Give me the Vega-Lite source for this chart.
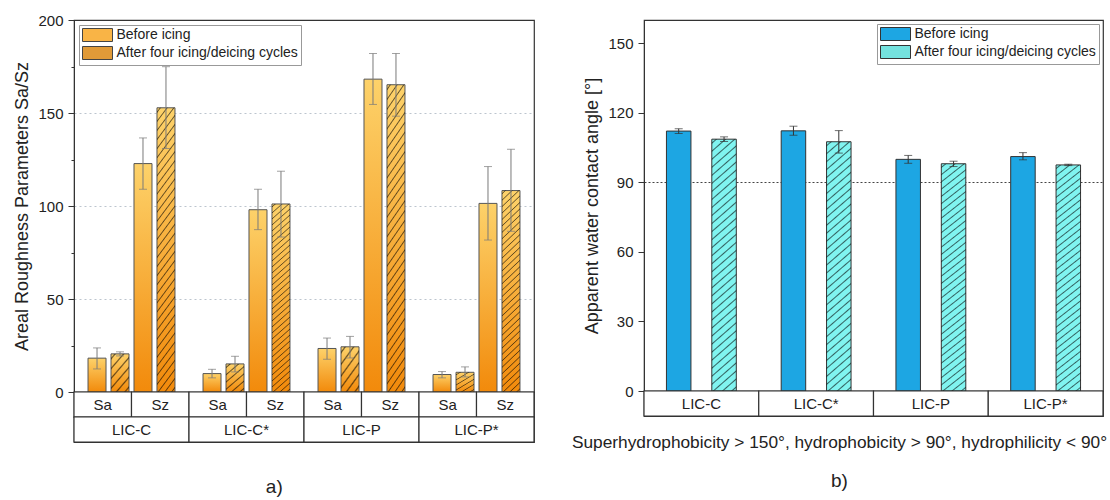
{
"$schema": "https://vega.github.io/schema/vega-lite/v6.json",
"background": "white",
"padding": {"left": 13, "top": 12, "right": 2, "bottom": 2},
"config": {
  "font": "Liberation Sans",
  "view": {"stroke": "#333", "strokeWidth": 1.2},
  "axis": {"labelFontSize": 15, "titleFontSize": 18, "titleFontWeight": "normal", "labelColor": "#222", "titleColor": "#222", "domainColor": "#333", "tickColor": "#333", "labelFlush": false, "labelOverlap": false, "labelPadding": 5, "titlePadding": 6},
  "legend": {"labelLimit": 400},
  "title": {"fontWeight": "normal", "color": "#222"}
},
"datasets": {
  "rough": [
    {"sample": "LIC-C", "param": "Sa", "stage": "Before", "slot": "Sa/Before", "value": 18.2, "lo": 12.4, "hi": 23.7},
    {"sample": "LIC-C", "param": "Sa", "stage": "After", "slot": "Sa/After", "value": 20.5, "lo": 19.4, "hi": 21.6},
    {"sample": "LIC-C", "param": "Sz", "stage": "Before", "slot": "Sz/Before", "value": 122.8, "lo": 109, "hi": 136.6},
    {"sample": "LIC-C", "param": "Sz", "stage": "After", "slot": "Sz/After", "value": 152.8, "lo": 130.9, "hi": 174.9},
    {"sample": "LIC-C*", "param": "Sa", "stage": "Before", "slot": "Sa/Before", "value": 9.9, "lo": 7.6, "hi": 12.2},
    {"sample": "LIC-C*", "param": "Sa", "stage": "After", "slot": "Sa/After", "value": 15.1, "lo": 10.8, "hi": 19.2},
    {"sample": "LIC-C*", "param": "Sz", "stage": "Before", "slot": "Sz/Before", "value": 98, "lo": 87.3, "hi": 109},
    {"sample": "LIC-C*", "param": "Sz", "stage": "After", "slot": "Sz/After", "value": 101.1, "lo": 83.3, "hi": 118.7},
    {"sample": "LIC-P", "param": "Sa", "stage": "Before", "slot": "Sa/Before", "value": 23.4, "lo": 17.6, "hi": 29},
    {"sample": "LIC-P", "param": "Sa", "stage": "After", "slot": "Sa/After", "value": 24.3, "lo": 18.3, "hi": 29.9},
    {"sample": "LIC-P", "param": "Sz", "stage": "Before", "slot": "Sz/Before", "value": 168.2, "lo": 154.6, "hi": 182},
    {"sample": "LIC-P", "param": "Sz", "stage": "After", "slot": "Sz/After", "value": 165.2, "lo": 148.3, "hi": 182},
    {"sample": "LIC-P*", "param": "Sa", "stage": "Before", "slot": "Sa/Before", "value": 9.4, "lo": 7.6, "hi": 11},
    {"sample": "LIC-P*", "param": "Sa", "stage": "After", "slot": "Sa/After", "value": 10.6, "lo": 8.1, "hi": 13.5},
    {"sample": "LIC-P*", "param": "Sz", "stage": "Before", "slot": "Sz/Before", "value": 101.4, "lo": 81.7, "hi": 121.2},
    {"sample": "LIC-P*", "param": "Sz", "stage": "After", "slot": "Sz/After", "value": 108.3, "lo": 86.4, "hi": 130.5}
  ],
  "wca": [
    {"sample": "LIC-C", "stage": "Before", "value": 112.1, "lo": 111, "hi": 113.1},
    {"sample": "LIC-C", "stage": "After", "value": 108.6, "lo": 107.6, "hi": 109.6},
    {"sample": "LIC-C*", "stage": "Before", "value": 112.2, "lo": 110.3, "hi": 114.2},
    {"sample": "LIC-C*", "stage": "After", "value": 107.5, "lo": 102.6, "hi": 112.3},
    {"sample": "LIC-P", "stage": "Before", "value": 99.9, "lo": 98.2, "hi": 101.6},
    {"sample": "LIC-P", "stage": "After", "value": 98, "lo": 96.8, "hi": 99.1},
    {"sample": "LIC-P*", "stage": "Before", "value": 101.1, "lo": 99.7, "hi": 102.8},
    {"sample": "LIC-P*", "stage": "After", "value": 97.5, "lo": 97.2, "hi": 97.8}
  ]
},
"spacing": 35,
"resolve": {"scale": {"fill": "independent", "xOffset": "independent"}, "legend": {"fill": "independent"}},
"hconcat": [
{
  "title": {"text": "a)", "orient": "bottom", "fontSize": 19, "offset": 35, "anchor": "middle"},
  "spacing": 0,
  "bounds": "flush",
  "resolve": {"scale": {"fill": "independent", "xOffset": "independent"}, "legend": {"fill": "independent"}},
  "vconcat": [
  {
    "width": 460, "height": 372,
    "data": {"name": "rough"},
    "encoding": {
      "x": {"field": "sample", "type": "nominal", "scale": {"domain": ["LIC-C", "LIC-C*", "LIC-P", "LIC-P*"], "paddingInner": 0, "paddingOuter": 0}, "axis": null},
      "xOffset": {"field": "slot", "type": "nominal", "scale": {"domain": ["Sa/Before", "Sa/After", "Sz/Before", "Sz/After"], "paddingInner": 0.217, "paddingOuter": 0.61}}
    },
    "layer": [
      {
        "mark": {"type": "bar", "opacity": 0, "stroke": "#444", "strokeWidth": 1},
        "encoding": {
          "y": {"field": "value", "type": "quantitative", "scale": {"domain": [0, 200]},
            "axis": {"title": "Areal Roughness Parameters Sa/Sz", "values": [0, 25, 50, 75, 100, 125, 150, 175, 200],
              "labelExpr": "datum.value % 50 === 0 ? datum.label : ''",
              "tickSize": {"condition": {"test": "datum.value % 50 === 0", "value": 6}, "value": 3},
              "grid": true, "gridColor": "#BCC5CE", "gridDash": [2, 3],
              "gridOpacity": {"condition": {"test": "datum.value === 50 || datum.value === 100 || datum.value === 150", "value": 1}, "value": 0}}},
          "fill": {"field": "stage", "type": "nominal",
            "scale": {"domain": ["Before", "After"], "range": ["#F9B446", "#E09A38"]},
            "legend": {"title": null, "orient": "top-left", "offset": 5,
              "labelExpr": "datum.value === 'Before' ? 'Before icing' : 'After four icing/deicing cycles'",
              "symbolType": "M-2.3077,-1H2.3077V1H-2.3077Z", "symbolSize": 169, "symbolOffset": 8.5, "labelOffset": 12,
              "symbolOpacity": 1, "symbolStrokeColor": "#444", "symbolStrokeWidth": 1,
              "labelFontSize": 14, "labelColor": "#222", "rowPadding": 0, "padding": 3,
              "strokeColor": "#999", "fillColor": "white", "cornerRadius": 0}}
        }
      },
      {
        "mark": {"type": "bar", "stroke": "#555", "strokeWidth": 1,
          "fill": {"gradient": "linear", "x1": 0, "y1": 0, "x2": 0, "y2": 1, "stops": [{"offset": 0, "color": "#FDD26A"}, {"offset": 1, "color": "#F28A0B"}]}},
        "encoding": {"y": {"field": "value", "type": "quantitative"}}
      },
      {
        "transform": [{"filter": "datum.stage === 'After' && datum.param === 'Sz'"}],
        "mark": {"type": "bar", "strokeWidth": 0,
          "fill": {"gradient": "linear", "x1": 0, "y1": 0, "x2": 0.0916, "y2": 1.0772, "stops": [
            {"offset": 0.0097, "color": "rgba(0,0,0,0)"}, {"offset": 0.0147, "color": "rgba(0,0,0,0.6)"}, {"offset": 0.0197, "color": "rgba(0,0,0,0)"},
            {"offset": 0.0391, "color": "rgba(0,0,0,0)"}, {"offset": 0.0441, "color": "rgba(0,0,0,0.6)"}, {"offset": 0.0491, "color": "rgba(0,0,0,0)"},
            {"offset": 0.0685, "color": "rgba(0,0,0,0)"}, {"offset": 0.0735, "color": "rgba(0,0,0,0.6)"}, {"offset": 0.0785, "color": "rgba(0,0,0,0)"},
            {"offset": 0.0979, "color": "rgba(0,0,0,0)"}, {"offset": 0.1029, "color": "rgba(0,0,0,0.6)"}, {"offset": 0.1079, "color": "rgba(0,0,0,0)"},
            {"offset": 0.1274, "color": "rgba(0,0,0,0)"}, {"offset": 0.1324, "color": "rgba(0,0,0,0.6)"}, {"offset": 0.1374, "color": "rgba(0,0,0,0)"},
            {"offset": 0.1568, "color": "rgba(0,0,0,0)"}, {"offset": 0.1618, "color": "rgba(0,0,0,0.6)"}, {"offset": 0.1668, "color": "rgba(0,0,0,0)"},
            {"offset": 0.1862, "color": "rgba(0,0,0,0)"}, {"offset": 0.1912, "color": "rgba(0,0,0,0.6)"}, {"offset": 0.1962, "color": "rgba(0,0,0,0)"},
            {"offset": 0.2156, "color": "rgba(0,0,0,0)"}, {"offset": 0.2206, "color": "rgba(0,0,0,0.6)"}, {"offset": 0.2256, "color": "rgba(0,0,0,0)"},
            {"offset": 0.2450, "color": "rgba(0,0,0,0)"}, {"offset": 0.2500, "color": "rgba(0,0,0,0.6)"}, {"offset": 0.2550, "color": "rgba(0,0,0,0)"},
            {"offset": 0.2744, "color": "rgba(0,0,0,0)"}, {"offset": 0.2794, "color": "rgba(0,0,0,0.6)"}, {"offset": 0.2844, "color": "rgba(0,0,0,0)"},
            {"offset": 0.3038, "color": "rgba(0,0,0,0)"}, {"offset": 0.3088, "color": "rgba(0,0,0,0.6)"}, {"offset": 0.3138, "color": "rgba(0,0,0,0)"},
            {"offset": 0.3332, "color": "rgba(0,0,0,0)"}, {"offset": 0.3382, "color": "rgba(0,0,0,0.6)"}, {"offset": 0.3432, "color": "rgba(0,0,0,0)"},
            {"offset": 0.3627, "color": "rgba(0,0,0,0)"}, {"offset": 0.3677, "color": "rgba(0,0,0,0.6)"}, {"offset": 0.3727, "color": "rgba(0,0,0,0)"},
            {"offset": 0.3921, "color": "rgba(0,0,0,0)"}, {"offset": 0.3971, "color": "rgba(0,0,0,0.6)"}, {"offset": 0.4021, "color": "rgba(0,0,0,0)"},
            {"offset": 0.4215, "color": "rgba(0,0,0,0)"}, {"offset": 0.4265, "color": "rgba(0,0,0,0.6)"}, {"offset": 0.4315, "color": "rgba(0,0,0,0)"},
            {"offset": 0.4509, "color": "rgba(0,0,0,0)"}, {"offset": 0.4559, "color": "rgba(0,0,0,0.6)"}, {"offset": 0.4609, "color": "rgba(0,0,0,0)"},
            {"offset": 0.4803, "color": "rgba(0,0,0,0)"}, {"offset": 0.4853, "color": "rgba(0,0,0,0.6)"}, {"offset": 0.4903, "color": "rgba(0,0,0,0)"},
            {"offset": 0.5097, "color": "rgba(0,0,0,0)"}, {"offset": 0.5147, "color": "rgba(0,0,0,0.6)"}, {"offset": 0.5197, "color": "rgba(0,0,0,0)"},
            {"offset": 0.5391, "color": "rgba(0,0,0,0)"}, {"offset": 0.5441, "color": "rgba(0,0,0,0.6)"}, {"offset": 0.5491, "color": "rgba(0,0,0,0)"},
            {"offset": 0.5685, "color": "rgba(0,0,0,0)"}, {"offset": 0.5735, "color": "rgba(0,0,0,0.6)"}, {"offset": 0.5785, "color": "rgba(0,0,0,0)"},
            {"offset": 0.5979, "color": "rgba(0,0,0,0)"}, {"offset": 0.6029, "color": "rgba(0,0,0,0.6)"}, {"offset": 0.6079, "color": "rgba(0,0,0,0)"},
            {"offset": 0.6274, "color": "rgba(0,0,0,0)"}, {"offset": 0.6324, "color": "rgba(0,0,0,0.6)"}, {"offset": 0.6374, "color": "rgba(0,0,0,0)"},
            {"offset": 0.6568, "color": "rgba(0,0,0,0)"}, {"offset": 0.6618, "color": "rgba(0,0,0,0.6)"}, {"offset": 0.6668, "color": "rgba(0,0,0,0)"},
            {"offset": 0.6862, "color": "rgba(0,0,0,0)"}, {"offset": 0.6912, "color": "rgba(0,0,0,0.6)"}, {"offset": 0.6962, "color": "rgba(0,0,0,0)"},
            {"offset": 0.7156, "color": "rgba(0,0,0,0)"}, {"offset": 0.7206, "color": "rgba(0,0,0,0.6)"}, {"offset": 0.7256, "color": "rgba(0,0,0,0)"},
            {"offset": 0.7450, "color": "rgba(0,0,0,0)"}, {"offset": 0.7500, "color": "rgba(0,0,0,0.6)"}, {"offset": 0.7550, "color": "rgba(0,0,0,0)"},
            {"offset": 0.7744, "color": "rgba(0,0,0,0)"}, {"offset": 0.7794, "color": "rgba(0,0,0,0.6)"}, {"offset": 0.7844, "color": "rgba(0,0,0,0)"},
            {"offset": 0.8038, "color": "rgba(0,0,0,0)"}, {"offset": 0.8088, "color": "rgba(0,0,0,0.6)"}, {"offset": 0.8138, "color": "rgba(0,0,0,0)"},
            {"offset": 0.8332, "color": "rgba(0,0,0,0)"}, {"offset": 0.8382, "color": "rgba(0,0,0,0.6)"}, {"offset": 0.8432, "color": "rgba(0,0,0,0)"},
            {"offset": 0.8627, "color": "rgba(0,0,0,0)"}, {"offset": 0.8677, "color": "rgba(0,0,0,0.6)"}, {"offset": 0.8727, "color": "rgba(0,0,0,0)"},
            {"offset": 0.8921, "color": "rgba(0,0,0,0)"}, {"offset": 0.8971, "color": "rgba(0,0,0,0.6)"}, {"offset": 0.9021, "color": "rgba(0,0,0,0)"},
            {"offset": 0.9215, "color": "rgba(0,0,0,0)"}, {"offset": 0.9265, "color": "rgba(0,0,0,0.6)"}, {"offset": 0.9315, "color": "rgba(0,0,0,0)"},
            {"offset": 0.9509, "color": "rgba(0,0,0,0)"}, {"offset": 0.9559, "color": "rgba(0,0,0,0.6)"}, {"offset": 0.9609, "color": "rgba(0,0,0,0)"},
            {"offset": 0.9803, "color": "rgba(0,0,0,0)"}, {"offset": 0.9853, "color": "rgba(0,0,0,0.6)"}, {"offset": 0.9903, "color": "rgba(0,0,0,0)"}
          ]}},
        "encoding": {"y": {"field": "value", "type": "quantitative"}}
      },
      {
        "transform": [{"filter": "datum.stage === 'After' && datum.param === 'Sa'"}],
        "mark": {"type": "bar", "strokeWidth": 0,
          "fill": {"gradient": "linear", "x1": 0, "y1": 0, "x2": 0.6545, "y2": 1.19, "stops": [
            {"offset": 0.0533, "color": "rgba(0,0,0,0)"}, {"offset": 0.0833, "color": "rgba(0,0,0,0.6)"}, {"offset": 0.1133, "color": "rgba(0,0,0,0)"},
            {"offset": 0.22, "color": "rgba(0,0,0,0)"}, {"offset": 0.25, "color": "rgba(0,0,0,0.6)"}, {"offset": 0.28, "color": "rgba(0,0,0,0)"},
            {"offset": 0.3867, "color": "rgba(0,0,0,0)"}, {"offset": 0.4167, "color": "rgba(0,0,0,0.6)"}, {"offset": 0.4467, "color": "rgba(0,0,0,0)"},
            {"offset": 0.5533, "color": "rgba(0,0,0,0)"}, {"offset": 0.5833, "color": "rgba(0,0,0,0.6)"}, {"offset": 0.6133, "color": "rgba(0,0,0,0)"},
            {"offset": 0.72, "color": "rgba(0,0,0,0)"}, {"offset": 0.75, "color": "rgba(0,0,0,0.6)"}, {"offset": 0.78, "color": "rgba(0,0,0,0)"},
            {"offset": 0.8867, "color": "rgba(0,0,0,0)"}, {"offset": 0.9167, "color": "rgba(0,0,0,0.6)"}, {"offset": 0.9467, "color": "rgba(0,0,0,0)"}
          ]}},
        "encoding": {"y": {"field": "value", "type": "quantitative"}}
      },
      {
        "mark": {"type": "rule", "color": "#7a7a7a", "strokeWidth": 1},
        "encoding": {"y": {"field": "lo", "type": "quantitative"}, "y2": {"field": "hi"}}
      },
      {
        "mark": {"type": "tick", "color": "#7a7a7a", "size": 8, "thickness": 1, "orient": "horizontal"},
        "encoding": {"y": {"field": "lo", "type": "quantitative"}}
      },
      {
        "mark": {"type": "tick", "color": "#7a7a7a", "size": 8, "thickness": 1, "orient": "horizontal"},
        "encoding": {"y": {"field": "hi", "type": "quantitative"}}
      }
    ]
  },
  {
    "width": 460, "height": 25,
    "data": {"name": "rough"},
    "transform": [{"filter": "datum.stage === 'Before'"}],
    "encoding": {
      "x": {"field": "sample", "type": "nominal", "scale": {"domain": ["LIC-C", "LIC-C*", "LIC-P", "LIC-P*"], "paddingInner": 0, "paddingOuter": 0}, "axis": null},
      "xOffset": {"field": "param", "type": "nominal", "scale": {"domain": ["Sa", "Sz"], "paddingInner": 0, "paddingOuter": 0}}
    },
    "layer": [
      {"mark": {"type": "rect", "fill": "white", "stroke": "#333", "strokeWidth": 1.2}, "encoding": {}},
      {"mark": {"type": "text", "fontSize": 15, "color": "#222"}, "encoding": {"text": {"field": "param"}}}
    ]
  },
  {
    "width": 460, "height": 25,
    "data": {"name": "rough"},
    "transform": [{"filter": "datum.stage === 'Before' && datum.param === 'Sa'"}],
    "encoding": {
      "x": {"field": "sample", "type": "nominal", "scale": {"domain": ["LIC-C", "LIC-C*", "LIC-P", "LIC-P*"], "paddingInner": 0, "paddingOuter": 0}, "axis": null}
    },
    "layer": [
      {"mark": {"type": "rect", "fill": "white", "stroke": "#333", "strokeWidth": 1.2}, "encoding": {}},
      {"mark": {"type": "text", "fontSize": 15, "color": "#222"}, "encoding": {"text": {"field": "sample"}}}
    ]
  }
  ]
},
{
  "title": {"text": "b)", "orient": "bottom", "fontSize": 19, "offset": 20, "anchor": "middle"},
  "spacing": 0,
  "bounds": "flush",
  "resolve": {"scale": {"fill": "independent", "xOffset": "independent"}, "legend": {"fill": "independent"}},
  "vconcat": [
  {
    "width": 459, "height": 371,
    "data": {"name": "wca"},
    "encoding": {
      "x": {"field": "sample", "type": "nominal", "scale": {"domain": ["LIC-C", "LIC-C*", "LIC-P", "LIC-P*"], "paddingInner": 0, "paddingOuter": 0}, "axis": null},
      "xOffset": {"field": "stage", "type": "nominal", "scale": {"domain": ["Before", "After"], "paddingInner": 0.46, "paddingOuter": 0.495}}
    },
    "layer": [
      {
        "mark": {"type": "bar", "opacity": 0, "stroke": "#333", "strokeWidth": 1},
        "encoding": {
          "y": {"field": "value", "type": "quantitative", "scale": {"domain": [0, 150]},
            "axis": {"title": "Apparent water contact angle [°]", "values": [0, 15, 30, 45, 60, 75, 90, 105, 120, 135, 150],
              "labelExpr": "datum.value % 30 === 0 ? datum.label : ''",
              "tickSize": {"condition": {"test": "datum.value % 30 === 0", "value": 6}, "value": 3},
              "grid": true, "gridColor": "#444", "gridDash": [2, 2],
              "gridOpacity": {"condition": {"test": "datum.value === 90", "value": 1}, "value": 0}}},
          "fill": {"field": "stage", "type": "nominal",
            "scale": {"domain": ["Before", "After"], "range": ["#1DA6E3", "#74E2DE"]},
            "legend": {"title": null, "orient": "top-right", "offset": 4,
              "labelExpr": "datum.value === 'Before' ? 'Before icing' : 'After four icing/deicing cycles'",
              "symbolType": "M-2.3077,-1H2.3077V1H-2.3077Z", "symbolSize": 169, "symbolOffset": 8.5, "labelOffset": 12,
              "symbolOpacity": 1, "symbolStrokeColor": "#333", "symbolStrokeWidth": 1,
              "labelFontSize": 14, "labelColor": "#222", "rowPadding": 0, "padding": 3,
              "strokeColor": "#999", "fillColor": "white", "cornerRadius": 0}}
        }
      },
      {
        "transform": [{"filter": "datum.stage === 'Before'"}],
        "mark": {"type": "bar", "fill": "#1DA6E3", "stroke": "#333", "strokeWidth": 1},
        "encoding": {"y": {"field": "value", "type": "quantitative"}}
      },
      {
        "transform": [{"filter": "datum.stage === 'After'"}],
        "mark": {"type": "bar", "fill": "#80F4F0", "stroke": "#333", "strokeWidth": 1},
        "encoding": {"y": {"field": "value", "type": "quantitative"}}
      },
      {
        "transform": [{"filter": "datum.stage === 'After'"}],
        "mark": {"type": "bar", "strokeWidth": 0,
          "fill": {"gradient": "linear", "x1": 0, "y1": 0, "x2": 0.0916, "y2": 1.0772, "stops": [
            {"offset": 0.0097, "color": "rgba(0,0,0,0)"}, {"offset": 0.0147, "color": "rgba(0,0,0,0.6)"}, {"offset": 0.0197, "color": "rgba(0,0,0,0)"},
            {"offset": 0.0391, "color": "rgba(0,0,0,0)"}, {"offset": 0.0441, "color": "rgba(0,0,0,0.6)"}, {"offset": 0.0491, "color": "rgba(0,0,0,0)"},
            {"offset": 0.0685, "color": "rgba(0,0,0,0)"}, {"offset": 0.0735, "color": "rgba(0,0,0,0.6)"}, {"offset": 0.0785, "color": "rgba(0,0,0,0)"},
            {"offset": 0.0979, "color": "rgba(0,0,0,0)"}, {"offset": 0.1029, "color": "rgba(0,0,0,0.6)"}, {"offset": 0.1079, "color": "rgba(0,0,0,0)"},
            {"offset": 0.1274, "color": "rgba(0,0,0,0)"}, {"offset": 0.1324, "color": "rgba(0,0,0,0.6)"}, {"offset": 0.1374, "color": "rgba(0,0,0,0)"},
            {"offset": 0.1568, "color": "rgba(0,0,0,0)"}, {"offset": 0.1618, "color": "rgba(0,0,0,0.6)"}, {"offset": 0.1668, "color": "rgba(0,0,0,0)"},
            {"offset": 0.1862, "color": "rgba(0,0,0,0)"}, {"offset": 0.1912, "color": "rgba(0,0,0,0.6)"}, {"offset": 0.1962, "color": "rgba(0,0,0,0)"},
            {"offset": 0.2156, "color": "rgba(0,0,0,0)"}, {"offset": 0.2206, "color": "rgba(0,0,0,0.6)"}, {"offset": 0.2256, "color": "rgba(0,0,0,0)"},
            {"offset": 0.2450, "color": "rgba(0,0,0,0)"}, {"offset": 0.2500, "color": "rgba(0,0,0,0.6)"}, {"offset": 0.2550, "color": "rgba(0,0,0,0)"},
            {"offset": 0.2744, "color": "rgba(0,0,0,0)"}, {"offset": 0.2794, "color": "rgba(0,0,0,0.6)"}, {"offset": 0.2844, "color": "rgba(0,0,0,0)"},
            {"offset": 0.3038, "color": "rgba(0,0,0,0)"}, {"offset": 0.3088, "color": "rgba(0,0,0,0.6)"}, {"offset": 0.3138, "color": "rgba(0,0,0,0)"},
            {"offset": 0.3332, "color": "rgba(0,0,0,0)"}, {"offset": 0.3382, "color": "rgba(0,0,0,0.6)"}, {"offset": 0.3432, "color": "rgba(0,0,0,0)"},
            {"offset": 0.3627, "color": "rgba(0,0,0,0)"}, {"offset": 0.3677, "color": "rgba(0,0,0,0.6)"}, {"offset": 0.3727, "color": "rgba(0,0,0,0)"},
            {"offset": 0.3921, "color": "rgba(0,0,0,0)"}, {"offset": 0.3971, "color": "rgba(0,0,0,0.6)"}, {"offset": 0.4021, "color": "rgba(0,0,0,0)"},
            {"offset": 0.4215, "color": "rgba(0,0,0,0)"}, {"offset": 0.4265, "color": "rgba(0,0,0,0.6)"}, {"offset": 0.4315, "color": "rgba(0,0,0,0)"},
            {"offset": 0.4509, "color": "rgba(0,0,0,0)"}, {"offset": 0.4559, "color": "rgba(0,0,0,0.6)"}, {"offset": 0.4609, "color": "rgba(0,0,0,0)"},
            {"offset": 0.4803, "color": "rgba(0,0,0,0)"}, {"offset": 0.4853, "color": "rgba(0,0,0,0.6)"}, {"offset": 0.4903, "color": "rgba(0,0,0,0)"},
            {"offset": 0.5097, "color": "rgba(0,0,0,0)"}, {"offset": 0.5147, "color": "rgba(0,0,0,0.6)"}, {"offset": 0.5197, "color": "rgba(0,0,0,0)"},
            {"offset": 0.5391, "color": "rgba(0,0,0,0)"}, {"offset": 0.5441, "color": "rgba(0,0,0,0.6)"}, {"offset": 0.5491, "color": "rgba(0,0,0,0)"},
            {"offset": 0.5685, "color": "rgba(0,0,0,0)"}, {"offset": 0.5735, "color": "rgba(0,0,0,0.6)"}, {"offset": 0.5785, "color": "rgba(0,0,0,0)"},
            {"offset": 0.5979, "color": "rgba(0,0,0,0)"}, {"offset": 0.6029, "color": "rgba(0,0,0,0.6)"}, {"offset": 0.6079, "color": "rgba(0,0,0,0)"},
            {"offset": 0.6274, "color": "rgba(0,0,0,0)"}, {"offset": 0.6324, "color": "rgba(0,0,0,0.6)"}, {"offset": 0.6374, "color": "rgba(0,0,0,0)"},
            {"offset": 0.6568, "color": "rgba(0,0,0,0)"}, {"offset": 0.6618, "color": "rgba(0,0,0,0.6)"}, {"offset": 0.6668, "color": "rgba(0,0,0,0)"},
            {"offset": 0.6862, "color": "rgba(0,0,0,0)"}, {"offset": 0.6912, "color": "rgba(0,0,0,0.6)"}, {"offset": 0.6962, "color": "rgba(0,0,0,0)"},
            {"offset": 0.7156, "color": "rgba(0,0,0,0)"}, {"offset": 0.7206, "color": "rgba(0,0,0,0.6)"}, {"offset": 0.7256, "color": "rgba(0,0,0,0)"},
            {"offset": 0.7450, "color": "rgba(0,0,0,0)"}, {"offset": 0.7500, "color": "rgba(0,0,0,0.6)"}, {"offset": 0.7550, "color": "rgba(0,0,0,0)"},
            {"offset": 0.7744, "color": "rgba(0,0,0,0)"}, {"offset": 0.7794, "color": "rgba(0,0,0,0.6)"}, {"offset": 0.7844, "color": "rgba(0,0,0,0)"},
            {"offset": 0.8038, "color": "rgba(0,0,0,0)"}, {"offset": 0.8088, "color": "rgba(0,0,0,0.6)"}, {"offset": 0.8138, "color": "rgba(0,0,0,0)"},
            {"offset": 0.8332, "color": "rgba(0,0,0,0)"}, {"offset": 0.8382, "color": "rgba(0,0,0,0.6)"}, {"offset": 0.8432, "color": "rgba(0,0,0,0)"},
            {"offset": 0.8627, "color": "rgba(0,0,0,0)"}, {"offset": 0.8677, "color": "rgba(0,0,0,0.6)"}, {"offset": 0.8727, "color": "rgba(0,0,0,0)"},
            {"offset": 0.8921, "color": "rgba(0,0,0,0)"}, {"offset": 0.8971, "color": "rgba(0,0,0,0.6)"}, {"offset": 0.9021, "color": "rgba(0,0,0,0)"},
            {"offset": 0.9215, "color": "rgba(0,0,0,0)"}, {"offset": 0.9265, "color": "rgba(0,0,0,0.6)"}, {"offset": 0.9315, "color": "rgba(0,0,0,0)"},
            {"offset": 0.9509, "color": "rgba(0,0,0,0)"}, {"offset": 0.9559, "color": "rgba(0,0,0,0.6)"}, {"offset": 0.9609, "color": "rgba(0,0,0,0)"},
            {"offset": 0.9803, "color": "rgba(0,0,0,0)"}, {"offset": 0.9853, "color": "rgba(0,0,0,0.6)"}, {"offset": 0.9903, "color": "rgba(0,0,0,0)"}
          ]}},
        "encoding": {"y": {"field": "value", "type": "quantitative"}}
      },
      {
        "mark": {"type": "rule", "color": "#333", "strokeWidth": 1},
        "encoding": {"y": {"field": "lo", "type": "quantitative"}, "y2": {"field": "hi"}}
      },
      {
        "mark": {"type": "tick", "color": "#333", "size": 8, "thickness": 1, "orient": "horizontal"},
        "encoding": {"y": {"field": "lo", "type": "quantitative"}}
      },
      {
        "mark": {"type": "tick", "color": "#333", "size": 8, "thickness": 1, "orient": "horizontal"},
        "encoding": {"y": {"field": "hi", "type": "quantitative"}}
      }
    ]
  },
  {
    "width": 459, "height": 25,
    "data": {"name": "wca"},
    "transform": [{"filter": "datum.stage === 'Before'"}],
    "title": {"text": "Superhydrophobicity > 150°, hydrophobicity > 90°, hydrophilicity < 90°", "orient": "bottom", "fontSize": 17.3, "offset": 17, "dx": -34, "anchor": "middle"},
    "encoding": {
      "x": {"field": "sample", "type": "nominal", "scale": {"domain": ["LIC-C", "LIC-C*", "LIC-P", "LIC-P*"], "paddingInner": 0, "paddingOuter": 0}, "axis": null}
    },
    "layer": [
      {"mark": {"type": "rect", "fill": "white", "stroke": "#333", "strokeWidth": 1.2}, "encoding": {}},
      {"mark": {"type": "text", "fontSize": 15, "color": "#222"}, "encoding": {"text": {"field": "sample"}}}
    ]
  }
  ]
}
]
}
